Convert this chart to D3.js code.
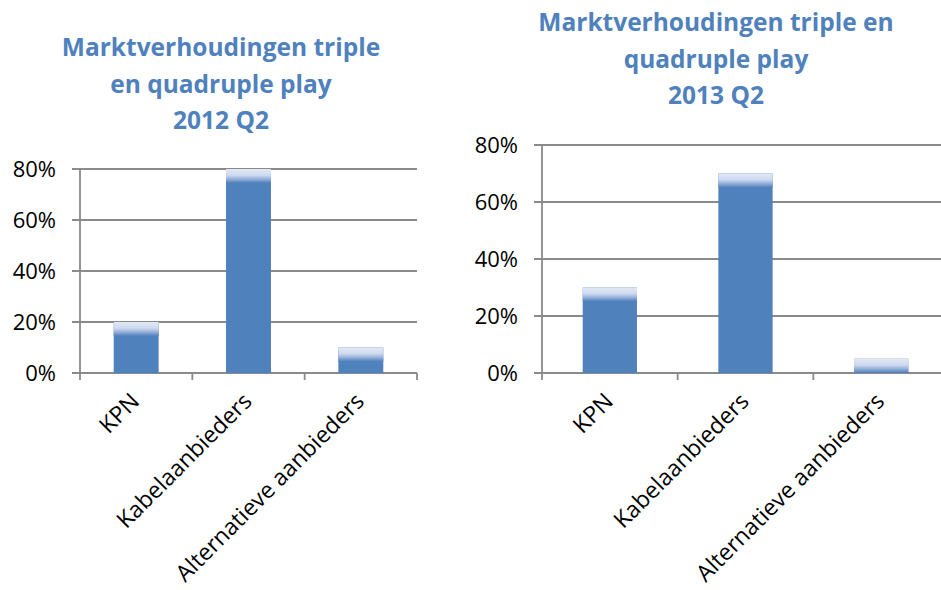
<!DOCTYPE html>
<html>
<head>
<meta charset="utf-8">
<script src="https://cdn.jsdelivr.net/npm/d3@7"></script>
<style>
  body { margin: 0; background: #fff; }
  text { font-family: "Open Sans", "Noto Sans", sans-serif; }
</style>
</head>
<body>
<script>
// data
var categories = ["KPN", "Kabelaanbieders", "Alternatieve aanbieders"];
var share2012 = [0.20, 0.80, 0.10];
var share2013 = [0.30, 0.70, 0.05];
var yTicks = [0, 0.2, 0.4, 0.6, 0.8];
var title2012 = ["Marktverhoudingen triple", "en quadruple play", "2012 Q2"];
var title2013 = ["Marktverhoudingen triple en", "quadruple play", "2013 Q2"];

var blue = "#4f81bd", grid = "#8a8a8a";

var svg = d3.select("body")
            .append("svg")
            .attr('width', 941)
            .attr('height', 590);

var defs = svg.append("defs");
var grad = defs.append("linearGradient")
               .attr('id', "barTop")
               .attr('x1', 0).attr('y1', 0)
               .attr('x2', 0).attr('y2', 1);
grad.append("stop").attr('offset', "0%").attr('stop-color', "#e2e9f5");
grad.append("stop").attr('offset', "45%").attr('stop-color', "#cdd9ee");
grad.append("stop").attr('offset', "75%").attr('stop-color', "#8eaad6");
grad.append("stop").attr('offset', "100%").attr('stop-color', blue);

function drawChart(opt){
    var g = svg.append("g");

    var x = d3.scaleBand()
              .domain(categories)
              .range([opt.x0, opt.x1])
              .paddingInner(0.6)
              .paddingOuter(0.3);
    var y = d3.scaleLinear()
              .domain([0, 0.8])
              .range([opt.y0, opt.y1]);

    // gridlines
    g.selectAll("line.grid")
     .data(yTicks)
     .enter()
     .append("line")
     .attr('class', "grid")
     .attr('x1', opt.x0 - 8)
     .attr('x2', opt.x1)
     .attr('y1', function(d){ return y(d); })
     .attr('y2', function(d){ return y(d); })
     .style('stroke', grid)
     .style('stroke-width', "1.8px");

    // y axis line
    g.append("line")
     .attr('x1', opt.x0).attr('x2', opt.x0)
     .attr('y1', y(0.8)).attr('y2', y(0) + 7)
     .style('stroke', grid)
     .style('stroke-width', "1.8px");

    // x ticks at band edges
    var edges = categories.map(function(c){ return x(c) - x.step() * 0.3; });
    edges.push(opt.x0 + x.step() * categories.length);
    g.selectAll("line.xtick")
     .data(edges.slice(1))
     .enter()
     .append("line")
     .attr('class', "xtick")
     .attr('x1', function(d){ return d; })
     .attr('x2', function(d){ return d; })
     .attr('y1', y(0))
     .attr('y2', y(0) + 7)
     .style('stroke', grid)
     .style('stroke-width', "1.8px");

    // y labels
    g.selectAll("text.ylab")
     .data(yTicks)
     .enter()
     .append("text")
     .attr('class', "ylab")
     .attr('x', opt.x0 - 24)
     .attr('y', function(d){ return y(d); })
     .attr('dy', "0.36em")
     .attr('text-anchor', "end")
     .style('font-size', "22px")
     .style('fill', "#000")
     .text(function(d){ return Math.round(d * 100) + "%"; });

    // bars
    var bars = g.selectAll("g.bar")
                .data(opt.values)
                .enter()
                .append("g")
                .attr('class', "bar");
    bars.append("rect")
        .attr('x', function(d, i){ return x(categories[i]); })
        .attr('y', function(d){ return y(d); })
        .attr('width', x.bandwidth())
        .attr('height', function(d){ return y(0) - y(d); })
        .style('fill', blue);
    bars.append("rect")
        .attr('x', function(d, i){ return x(categories[i]); })
        .attr('y', function(d){ return y(d); })
        .attr('width', x.bandwidth())
        .attr('height', function(d){ return Math.min(14, y(0) - y(d)); })
        .style('fill', "url(#barTop)");

    // x labels, rotated
    g.selectAll("text.xlab")
     .data(categories)
     .enter()
     .append("text")
     .attr('class', "xlab")
     .attr('transform', function(d){
         return "translate(" + (x(d) + x.bandwidth() / 2 - 1) + "," + (y(0) + 24) + ") rotate(-45)";
     })
     .attr('text-anchor', "end")
     .attr('dy', "0.35em")
     .style('font-size', "23px")
     .style('fill', "#000")
     .text(function(d){ return d; });

    // title
    g.selectAll("text.title")
     .data(opt.title)
     .enter()
     .append("text")
     .attr('class', "title")
     .attr('x', opt.tx)
     .attr('y', function(d, i){ return opt.ty + i * 36.5; })
     .attr('text-anchor', "middle")
     .style('font-size', "24.5px")
     .style('font-weight', "bold")
     .style('fill', blue)
     .text(function(d){ return d; });
}

drawChart({x0: 80, x1: 417, y0: 373, y1: 169, values: share2012, title: title2012, tx: 221, ty: 56});
drawChart({x0: 542, x1: 949, y0: 373, y1: 145, values: share2013, title: title2013, tx: 716, ty: 31});
</script>
</body>
</html>
